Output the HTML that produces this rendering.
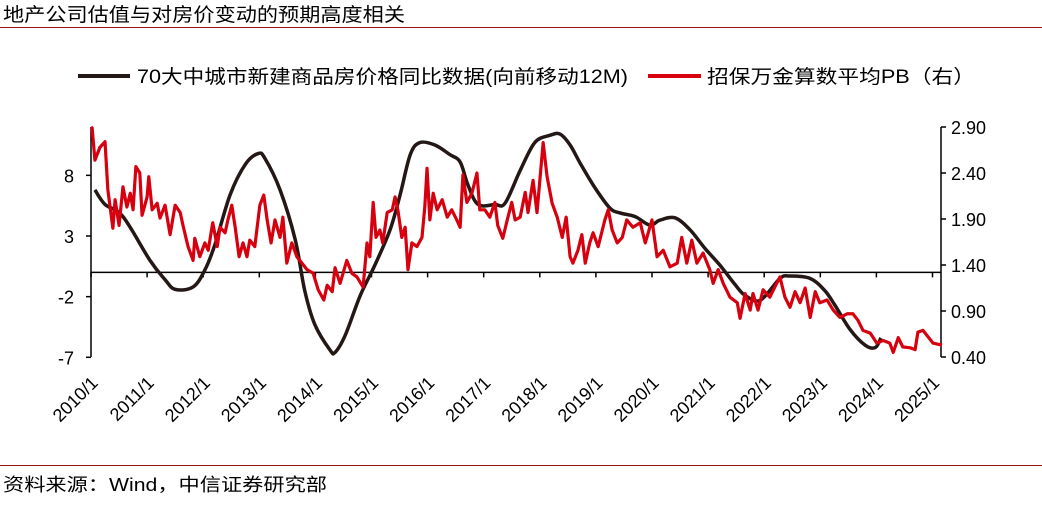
<!DOCTYPE html>
<html><head><meta charset="utf-8"><style>
body{margin:0;background:#fff;}
svg text{font-family:"Liberation Sans","Noto Sans CJK SC",sans-serif;}
</style></head><body>
<svg width="1042" height="500" viewBox="0 0 1042 500" id="chart">
<text x="3" y="21" font-size="19" textLength="402" lengthAdjust="spacingAndGlyphs" fill="#000">地产公司估值与对房价变动的预期高度相关</text>
<line x1="0" y1="27.5" x2="1042" y2="27.5" stroke="#a01010" stroke-width="1"/>
<g>
<line x1="78" y1="76" x2="130" y2="76" stroke="#231815" stroke-width="4"/>
<text x="137" y="83" font-size="19" textLength="491" lengthAdjust="spacingAndGlyphs">70大中城市新建商品房价格同比数据(向前移动12M)</text>
<line x1="648" y1="76" x2="701" y2="76" stroke="#d7000f" stroke-width="4"/>
<text x="707" y="83" font-size="19" textLength="268" lengthAdjust="spacingAndGlyphs">招保万金算数平均PB（右）</text>
</g>
<g id="axes"></g>
<g id="series"></g>
<line x1="0" y1="465.5" x2="1042" y2="465.5" stroke="#a01010" stroke-width="1"/>
<text x="3" y="491" font-size="18" textLength="324" lengthAdjust="spacingAndGlyphs">资料来源：Wind，中信证券研究部</text>
</svg>
<script>
const leftTicks=[8,3,-2,-7];
const rightTicks=[2.90,2.40,1.90,1.40,0.90,0.40];
const yearLabels=["2010/1","2011/1","2012/1","2013/1","2014/1","2015/1","2016/1","2017/1","2018/1","2019/1","2020/1","2021/1","2022/1","2023/1","2024/1","2025/1"];
const priceDates=[0.07,0.25,0.57,1.05,1.32,1.50,1.82,2.03,2.21,2.48,2.75,2.98,3.10,3.37,3.64,3.81,3.99,4.26,4.35,4.53,4.80,5.06,5.33,5.51,5.69,5.86,6.13,6.40,6.58,6.72,6.90,7.20,7.38,7.65,7.91,8.18,8.36,8.54,8.72,8.98,9.25,9.43,9.70,9.96,10.14,10.41,10.68,10.94,11.21,11.48,11.66,11.93,12.28,12.46,12.82,13.08,13.26,13.53,13.80,13.98,14.08];
const priceValues=[6.8,5.6,4.6,1.0,-0.6,-1.4,-1.2,0.2,2.3,6.4,8.9,9.8,9.4,6.8,2.7,-1.5,-4.3,-6.4,-6.6,-5.2,-1.9,0.6,3.5,6.4,9.7,10.7,10.5,9.7,9.1,7.2,5.6,5.6,5.7,8.4,10.7,11.3,11.4,10.5,9.0,7.0,5.3,4.9,4.6,3.9,4.3,4.5,3.5,2.0,0.6,-1.0,-1.9,-2.3,-0.5,-0.3,-0.5,-1.5,-2.7,-4.7,-6.0,-6.2,-5.4];
const pbDates=[0.00,0.02,0.07,0.16,0.25,0.30,0.39,0.43,0.50,0.57,0.64,0.70,0.75,0.80,0.87,0.91,1.00,1.03,1.09,1.18,1.23,1.32,1.41,1.50,1.59,1.64,1.73,1.82,1.85,1.94,2.03,2.09,2.17,2.25,2.30,2.39,2.44,2.51,2.57,2.64,2.71,2.78,2.83,2.92,3.01,3.08,3.14,3.21,3.28,3.37,3.42,3.49,3.58,3.67,3.76,3.85,3.96,4.05,4.15,4.21,4.30,4.35,4.44,4.56,4.65,4.74,4.85,4.92,4.97,5.03,5.08,5.15,5.20,5.28,5.37,5.42,5.47,5.54,5.60,5.65,5.72,5.81,5.90,5.95,5.99,6.04,6.10,6.17,6.26,6.35,6.43,6.52,6.58,6.63,6.70,6.79,6.88,6.93,7.02,7.11,7.20,7.25,7.34,7.42,7.50,7.56,7.65,7.74,7.79,7.88,7.95,8.06,8.13,8.22,8.31,8.40,8.47,8.54,8.59,8.68,8.75,8.81,8.89,8.95,9.04,9.16,9.22,9.29,9.38,9.47,9.55,9.66,9.79,9.88,10.00,10.09,10.20,10.32,10.45,10.53,10.62,10.71,10.80,10.91,11.03,11.09,11.18,11.27,11.39,11.52,11.57,11.66,11.75,11.80,11.89,11.98,12.10,12.19,12.28,12.37,12.46,12.55,12.64,12.73,12.82,12.91,12.99,13.12,13.23,13.35,13.48,13.58,13.67,13.76,13.89,14.01,14.12,14.24,14.30,14.39,14.47,14.60,14.69,14.74,14.83,14.92,15.01,15.17];
const pbValues=[2.90,2.89,2.54,2.68,2.74,2.22,1.80,2.11,1.83,2.25,2.03,2.18,2.00,2.47,2.40,1.94,2.14,2.36,2.00,2.07,1.91,2.05,1.73,2.05,1.97,1.83,1.60,1.45,1.69,1.49,1.64,1.56,1.86,1.60,1.81,1.75,1.89,2.05,1.81,1.49,1.64,1.49,1.67,1.60,2.05,2.16,1.89,1.64,1.89,1.70,1.92,1.42,1.64,1.49,1.42,1.35,1.31,1.13,1.02,1.18,1.11,1.37,1.20,1.45,1.31,1.27,1.16,1.64,1.49,2.08,1.70,1.78,1.64,1.97,2.00,2.14,2.00,1.70,1.81,1.35,1.64,1.60,1.70,2.03,2.45,1.89,2.18,2.00,2.11,1.92,2.00,1.89,1.81,2.38,2.08,2.18,2.40,2.00,2.00,1.92,2.08,1.83,1.69,1.89,2.08,1.89,1.92,2.19,1.97,2.32,1.97,2.73,2.36,2.07,1.92,1.70,1.92,1.49,1.42,1.56,1.73,1.42,1.64,1.75,1.60,1.89,2.00,1.78,1.64,1.70,1.89,1.81,1.86,1.64,1.89,1.49,1.56,1.38,1.42,1.70,1.42,1.67,1.42,1.53,1.35,1.20,1.35,1.20,1.05,0.99,0.82,1.09,0.91,1.09,0.91,1.13,1.05,1.16,1.27,1.05,0.94,1.11,0.99,1.15,0.83,1.11,0.99,1.02,0.91,0.83,0.87,0.87,0.80,0.69,0.66,0.55,0.58,0.55,0.45,0.61,0.51,0.50,0.48,0.67,0.69,0.62,0.55,0.53];
const NS="http://www.w3.org/2000/svg";
const x0=91, pxPerYear=56.1;
const xs=t=>x0+t*pxPerYear;
const yL=v=>236-(v-3)*12.13;
const yR=v=>357-(v-0.4)*92;
const axes=document.getElementById('axes'), series=document.getElementById('series');
function mk(tag,attrs,parent){const e=document.createElementNS(NS,tag);for(const k in attrs)e.setAttribute(k,attrs[k]);parent.appendChild(e);return e;}
let e=mk('line',{x1:x0,y1:127,x2:x0,y2:357,stroke:'#000','stroke-width':1.5},axes);


e=mk('line',{x1:941,y1:127,x2:941,y2:357,stroke:'#000','stroke-width':1.5},axes);


e=mk('line',{x1:x0,y1:yL(0),x2:941,y2:yL(0),stroke:'#000','stroke-width':1.5},axes);


leftTicks.forEach(v=>{
 const y=yL(v);
 let t=mk('line',{x1:x0-5,y1:y,x2:x0,y2:y,stroke:'#000','stroke-width':1.5},axes);
 
 
 let l=mk('text',{x:74,y:y+7,'font-size':18,'text-anchor':'end'},axes);l.textContent=v;
 
 
});
rightTicks.forEach(v=>{
 const y=yR(v);
 let t=mk('line',{x1:941,y1:y,x2:946,y2:y,stroke:'#000','stroke-width':1.5},axes);
 
 
 let l=mk('text',{x:951,y:y+7,'font-size':18},axes);l.textContent=v.toFixed(2);
 
 
});
yearLabels.forEach((s,i)=>{
 const x=xs(i);
 let t=mk('line',{x1:x,y1:yL(0),x2:x,y2:yL(0)+5,stroke:'#000','stroke-width':1.5},axes);
 
 
 let l=mk('text',{x:x+8,y:384,'font-size':18,'text-anchor':'end',transform:`rotate(-45 ${x+8} 384)`},axes);l.textContent=s;
 
 
});
const pp=priceDates.map((d,i)=>[xs(d),yL(priceValues[i])]);
let dstr=`M${pp[0][0]},${pp[0][1]}`;
for(let i=0;i<pp.length-1;i++){
 const p0=pp[Math.max(0,i-1)],p1=pp[i],p2=pp[i+1],p3=pp[Math.min(pp.length-1,i+2)];
 const c1=[p1[0]+(p2[0]-p0[0])/6,p1[1]+(p2[1]-p0[1])/6],c2=[p2[0]-(p3[0]-p1[0])/6,p2[1]-(p3[1]-p1[1])/6];
 dstr+=`C${c1[0]},${c1[1]} ${c2[0]},${c2[1]} ${p2[0]},${p2[1]}`;
}
const pl=mk('path',{d:dstr,fill:'none',stroke:'#231815','stroke-width':3.5,'stroke-linejoin':'round'},series);


const rl=mk('polyline',{points:pbDates.map((d,i)=>xs(d)+','+yR(pbValues[i])).join(' '),fill:'none',stroke:'#d7000f','stroke-width':3.2,'stroke-linejoin':'round'},series);


</script>
</body></html>
